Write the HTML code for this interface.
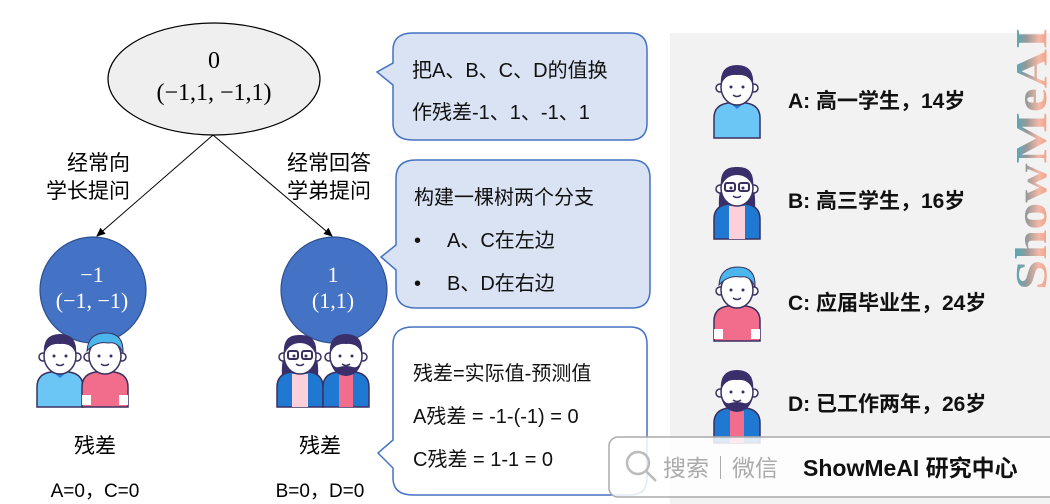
<!DOCTYPE html>
<html><head><meta charset="utf-8"><style>
html,body{margin:0;padding:0;background:#fff}
body{width:1050px;height:504px;overflow:hidden;position:relative}
svg{position:absolute;left:0;top:0}
.t{font-family:"Liberation Sans","Noto Sans CJK SC",sans-serif;}
</style></head><body>
<svg width="1050" height="504" viewBox="0 0 1050 504" xmlns="http://www.w3.org/2000/svg">
<defs>
<marker id="ar" markerWidth="10" markerHeight="10" refX="8" refY="5" orient="auto" markerUnits="userSpaceOnUse">
<path d="M0,1 L9,5 L0,9 Z" fill="#000"/></marker>
<linearGradient id="wm" x1="0" y1="1" x2="0" y2="0">
<stop offset="0" stop-color="#f08a5d"/><stop offset="0.35" stop-color="#f4b8a8"/><stop offset="0.6" stop-color="#999"/><stop offset="1" stop-color="#1ab6d6"/></linearGradient>
<g id="head">
<circle cx="6" cy="28" r="4" fill="#fff" stroke="#3a3060" stroke-width="1.5"/>
<circle cx="40" cy="28" r="4" fill="#fff" stroke="#3a3060" stroke-width="1.5"/>
<ellipse cx="23" cy="27" rx="16" ry="18" fill="#fff" stroke="#3a3060" stroke-width="1.5"/>
<circle cx="17" cy="27" r="1.5" fill="#3a3060"/><circle cx="29" cy="27" r="1.5" fill="#3a3060"/>
<path d="M19,35 Q23,38 27,35" fill="none" stroke="#3a3060" stroke-width="1.5"/>
</g>
<g id="pA">
<path d="M0,78 L0,58 Q0,45 14,43 L32,43 Q46,45 46,58 L46,78 Z" fill="#6cc6f5" stroke="#3a3060" stroke-width="1.5"/>
<path d="M16,43 L23,49 L30,43 Z" fill="#2a7fd4"/>
<use href="#head"/>
<path d="M7,26 Q5,5 23,5 Q41,5 39,26 Q36,14 23,15 Q10,14 7,26 Z" fill="#3a2f6b"/>
</g>
<g id="pB">
<path d="M5,50 Q3,12 23,8 Q43,12 41,50 Z" fill="#3a2f6b"/>
<path d="M0,78 L0,58 Q0,45 14,43 L32,43 Q46,45 46,58 L46,78 Z" fill="#1f78d1" stroke="#3a3060" stroke-width="1.5"/>
<rect x="15" y="45" width="16" height="33" fill="#fcd0da"/>
<use href="#head"/>
<path d="M7,26 Q5,5 23,6 Q41,5 39,26 Q34,14 23,14 Q12,14 7,26 Z" fill="#3a2f6b"/>
<rect x="11" y="22" width="10" height="8" rx="2" fill="none" stroke="#3a3060" stroke-width="2"/>
<rect x="25" y="22" width="10" height="8" rx="2" fill="none" stroke="#3a3060" stroke-width="2"/>
</g>
<g id="pC">
<path d="M0,78 L0,58 Q0,45 14,43 L32,43 Q46,45 46,58 L46,78 Z" fill="#f26d8c" stroke="#3a3060" stroke-width="1.5"/>
<rect x="0" y="66" width="9" height="10" fill="#fff"/><rect x="37" y="66" width="9" height="10" fill="#fff"/>
<use href="#head"/>
<path d="M5,22 Q6,4 24,4 Q42,4 41,24 Q36,12 26,14 Q14,12 5,22 Z" fill="#4ab6ec" stroke="#3a3060" stroke-width="1"/>
</g>
<g id="pD">
<path d="M0,78 L0,58 Q0,45 14,43 L32,43 Q46,45 46,58 L46,78 Z" fill="#1f78d1" stroke="#3a3060" stroke-width="1.5"/>
<rect x="16" y="45" width="14" height="33" fill="#f26d8c"/>
<use href="#head"/>
<path d="M7,26 Q5,5 23,5 Q41,5 39,26 Q36,14 23,15 Q10,14 7,26 Z" fill="#3a2f6b"/>
<path d="M7,28 Q8,46 23,47 Q38,46 39,28 Q36,40 30,38 Q23,36 16,38 Q10,40 7,28 Z" fill="#3a2f6b"/>
</g>
</defs>

<!-- right gray panel -->
<rect x="670" y="33" width="380" height="471" fill="#f2f2f2"/>

<!-- root -->
<ellipse cx="214" cy="79" rx="106" ry="56" fill="#efefef" stroke="#000" stroke-width="1.2"/>
<text x="214" y="68" text-anchor="middle" font-family="Liberation Serif,serif" font-size="24">0</text>
<text x="214" y="100" text-anchor="middle" font-family="Liberation Serif,serif" font-size="24">(−1,1, −1,1)</text>
<line x1="213" y1="135" x2="97" y2="236" stroke="#000" stroke-width="1" marker-end="url(#ar)"/>
<line x1="213" y1="135" x2="332" y2="236" stroke="#000" stroke-width="1" marker-end="url(#ar)"/>
<g class="t" font-size="21" fill="#000">
<text x="130" y="170" text-anchor="end">经常向</text>
<text x="130" y="198" text-anchor="end">学长提问</text>
<text x="287" y="170">经常回答</text>
<text x="287" y="198">学弟提问</text>
</g>

<!-- children -->
<circle cx="93" cy="290" r="53" fill="#4472c4" stroke="#2f4f8f" stroke-width="1.2"/>
<text x="92" y="282" text-anchor="middle" font-family="Liberation Serif,serif" font-size="22" fill="#fff">−1</text>
<text x="92" y="308" text-anchor="middle" font-family="Liberation Serif,serif" font-size="22" fill="#fff">(−1, −1)</text>
<circle cx="334" cy="290" r="53" fill="#4472c4" stroke="#2f4f8f" stroke-width="1.2"/>
<text x="333" y="282" text-anchor="middle" font-family="Liberation Serif,serif" font-size="22" fill="#fff">1</text>
<text x="333" y="308" text-anchor="middle" font-family="Liberation Serif,serif" font-size="22" fill="#fff">(1,1)</text>

<use href="#pA" x="37" y="329"/>
<use href="#pC" x="82" y="329"/>
<use href="#pB" x="277" y="329"/>
<use href="#pD" x="323" y="329"/>

<g class="t" font-size="21">
<text x="95" y="453" text-anchor="middle">残差</text>
<text x="320" y="453" text-anchor="middle">残差</text>
<text x="95" y="497" text-anchor="middle" font-size="19">A=0，C=0</text>
<text x="320" y="497" text-anchor="middle" font-size="19">B=0，D=0</text>
</g>

<!-- callouts -->
<path d="M413,33 L630,33 Q647,33 647,50 L647,123 Q647,140 630,140 L413,140 Q393,140 393,123 L393,85 L377,72 L393,63 L393,50 Q393,33 413,33 Z" fill="#dae3f3" stroke="#4472c4" stroke-width="1.5"/>
<path d="M416,160 L632,160 Q650,160 650,178 L650,290 Q650,308 632,308 L416,308 Q396,308 396,290 L396,270 L381,257 L396,245 L396,178 Q396,160 416,160 Z" fill="#dae3f3" stroke="#4472c4" stroke-width="1.5"/>
<path d="M413,327 L630,327 Q647,327 647,344 L647,478 Q647,495 630,495 L413,495 Q393,495 393,478 L393,468 L378,453 L393,440 L393,344 Q393,327 413,327 Z" fill="#fff" stroke="#4472c4" stroke-width="1.5"/>
<g class="t" font-size="20" fill="#111">
<text x="412" y="77">把A、B、C、D的值换</text>
<text x="412" y="119">作残差-1、1、-1、1</text>
<text x="414" y="204">构建一棵树两个分支</text>
<text x="414" y="247">•</text><text x="447" y="247">A、C在左边</text>
<text x="414" y="290">•</text><text x="447" y="290">B、D在右边</text>
<text x="413" y="380">残差=实际值-预测值</text>
<text x="413" y="423">A残差 = -1-(-1) = 0</text>
<text x="413" y="466">C残差 = 1-1 = 0</text>
</g>

<!-- right panel people -->
<use href="#pA" x="714" y="60"/>
<use href="#pB" x="714" y="161"/>
<use href="#pC" x="714" y="263"/>
<use href="#pD" x="714" y="365"/>
<g class="t" font-size="21" fill="#111" font-weight="bold">
<text x="788" y="108">A: 高一学生，14岁</text>
<text x="788" y="208">B: 高三学生，16岁</text>
<text x="788" y="310">C: 应届毕业生，24岁</text>
<text x="788" y="411">D: 已工作两年，26岁</text>
</g>

<!-- vertical watermark -->
<text transform="translate(1046,290) rotate(-90)" font-family="Liberation Serif,serif" font-weight="bold" font-size="44" fill="url(#wm)" textLength="262" lengthAdjust="spacingAndGlyphs">ShowMeAI</text>

<!-- search box -->
<rect x="609" y="437" width="450" height="60" rx="9" fill="#fff" fill-opacity="0.85" stroke="#aaa" stroke-width="1.5"/>
<circle cx="638" cy="463" r="11" fill="none" stroke="#bbb" stroke-width="2.5"/>
<line x1="646" y1="471" x2="656" y2="481" stroke="#bbb" stroke-width="2.5"/>
<text x="663" y="476" class="t" font-size="23" fill="#aaa">搜索｜微信</text>
<text x="803" y="476" class="t" font-size="23" font-weight="bold" fill="#111">ShowMeAI 研究中心</text>
</svg>
</body></html>
